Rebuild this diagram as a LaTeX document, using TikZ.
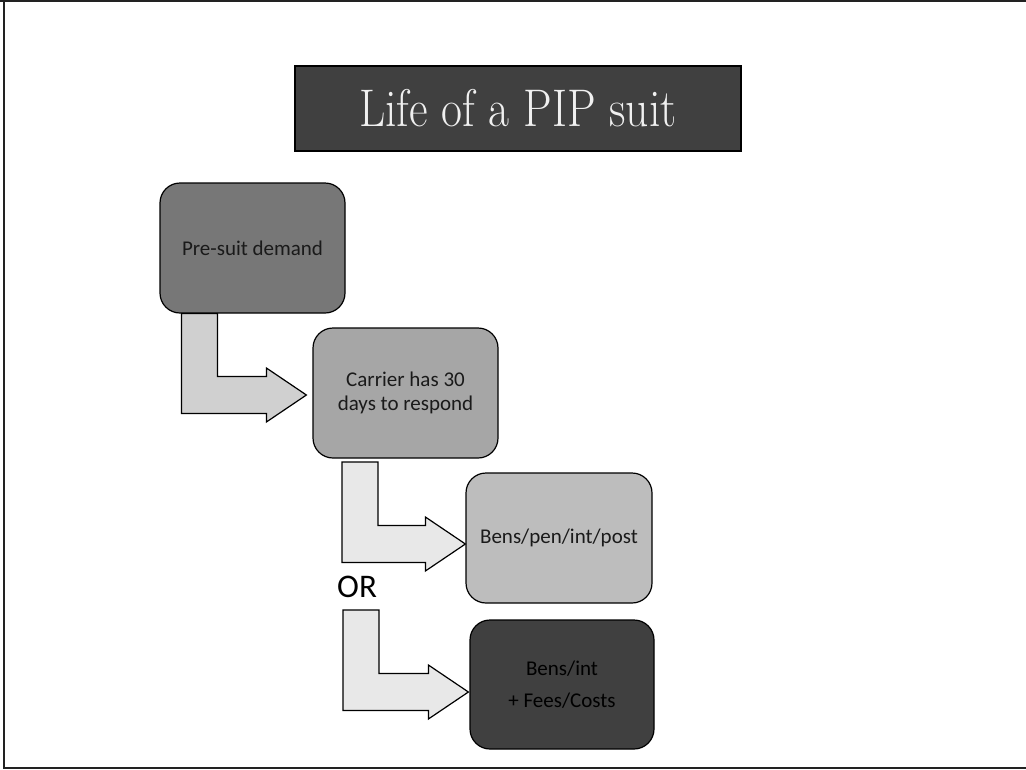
\documentclass[tikz,border=0pt]{standalone}
\usepackage{fontspec}
\usetikzlibrary{calc}
\newfontfamily\bodyfont{Carlito}
\newfontfamily\titlefont[FakeStretch=0.86]{Latin Modern Roman}

\definecolor{titlefill}{HTML}{404040}
\definecolor{fillA}{HTML}{777777}
\definecolor{fillB}{HTML}{A6A6A6}
\definecolor{fillC}{HTML}{BDBDBD}
\definecolor{fillD}{HTML}{404040}
\definecolor{arrowA}{HTML}{D0D0D0}
\definecolor{arrowB}{HTML}{E8E8E8}
\definecolor{textdark}{HTML}{1A1A1A}
\definecolor{framegray}{HTML}{222222}

% bent block arrow: #2 = top-left corner of the stem, #3 = tip
\newcommand{\bentarrow}[3]{%
  \draw[#1] (#2) -- ++(36,0) |- ($(#3)+(-40,-18.5)$) -- ++(0,-8.5) -- (#3)
    -- ($(#3)+(-40,27)$) -- ++(0,-8.5) -| (#2) -- cycle;}

\tikzset{
  stepbox/.style={draw=black, line width=1.2pt, rounded corners=20pt,
    minimum width=185pt, minimum height=130pt, inner sep=0pt,
    font=\bodyfont\fontsize{21}{24}\selectfont, text=textdark, align=center},
  blockarrow/.style={draw=black, line width=1.2pt, line join=miter},
}

\begin{document}
\begin{tikzpicture}[x=1pt, y=-1pt]
  \useasboundingbox (0,0) rectangle (1026,769);

  % slide frame
  \draw[framegray, line width=2pt] (0,1) -- (1026,1);
  \draw[framegray, line width=2pt] (4,0) -- (4,768) -- (1026,768);

  % title
  \node[draw=black, line width=2pt, fill=titlefill, minimum width=446pt,
        minimum height=85pt, inner sep=0pt, text=white!94!black,
        font=\titlefont\fontsize{53}{58}\selectfont] (title) at (518,108.5)
        {Life of a PIP suit};

  % steps
  \node[stepbox, fill=fillA] (b1) at (252.5,248) {Pre-suit demand};
  \node[stepbox, fill=fillB] (b2) at (405.5,393) {Carrier has 30\\days to respond};
  \node[stepbox, fill=fillC, minimum width=186pt] (b3) at (559,538) {Bens/pen/int/post};
  \node[stepbox, fill=fillD, minimum width=184pt, minimum height=129pt,
        text=black] (b4) at (562,684.5) {Bens/int\\[8pt]+ Fees/Costs};

  % arrow end points
  \coordinate (s1) at ($(b1.south west)+(22,0)$);
  \coordinate (t1) at ($(b2.west)+(-6,2)$);
  \coordinate (s2) at (342,462);
  \coordinate (t2) at ($(b3.west)+(0,6)$);
  \coordinate (s3) at (343,610);
  \coordinate (t3) at ($(b4.west)+(-1,7.5)$);

  \bentarrow{blockarrow, fill=arrowA}{s1}{t1}
  \bentarrow{blockarrow, fill=arrowB}{s2}{t2}
  \bentarrow{blockarrow, fill=arrowB}{s3}{t3}

  \node[anchor=base west, inner sep=0pt, font=\bodyfont\fontsize{33}{36}\selectfont]
        (or) at (337,597) {OR};
\end{tikzpicture}
\end{document}
